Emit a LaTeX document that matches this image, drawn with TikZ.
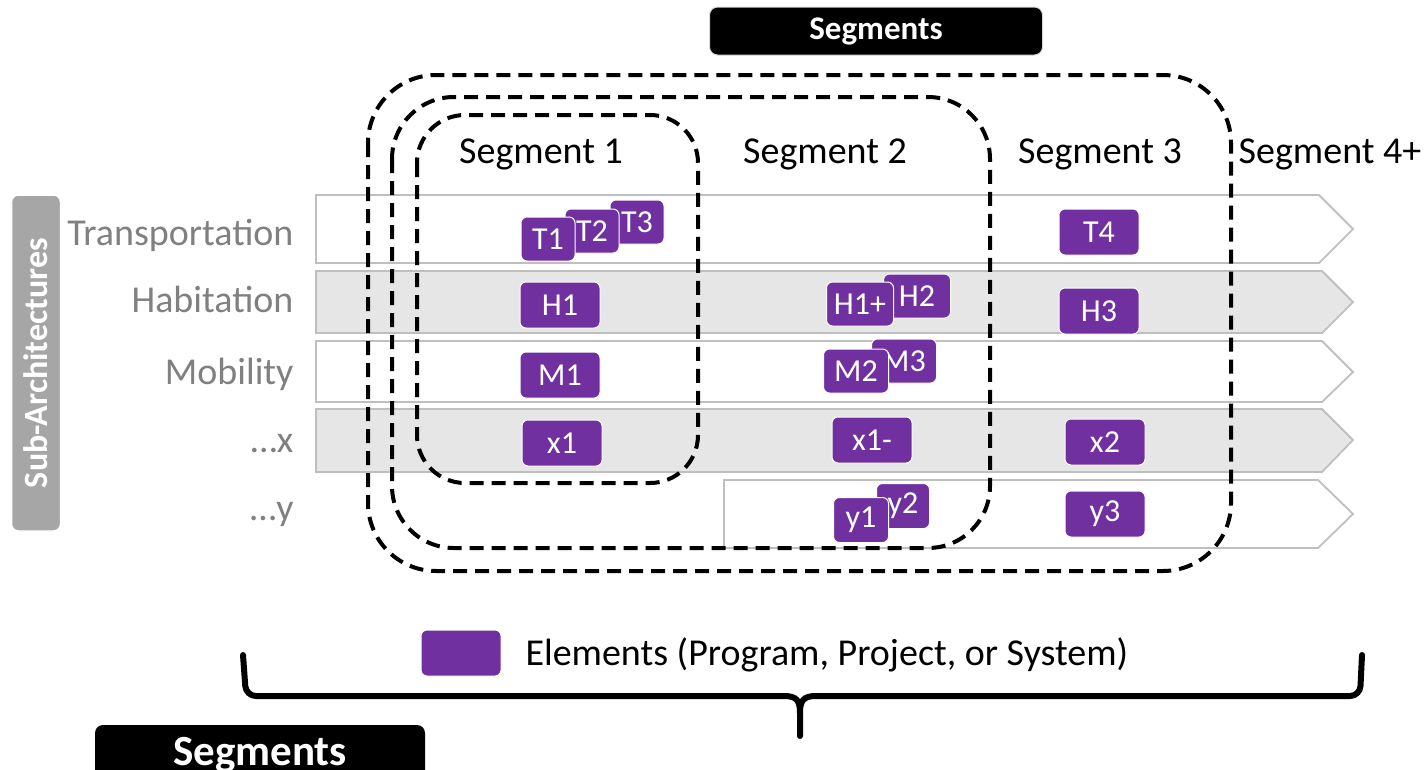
\documentclass[tikz,border=0pt]{standalone}
\usepackage{fontspec}
\setmainfont{Carlito}
\definecolor{elempurple}{HTML}{7030A0}
\definecolor{laneline}{HTML}{BFBFBF}
\definecolor{lanefill}{HTML}{E7E6E6}
\definecolor{labelgray}{HTML}{808080}
\definecolor{subgray}{HTML}{A6A6A6}
\begin{document}
\begin{tikzpicture}[x=1pt,y=-1pt,
  lane/.style={draw=laneline, line width=1.8pt},
  elem/.style={fill=elempurple, draw=white, line width=1pt, rounded corners=6pt, text=white,
    font=\fontsize{32}{32}\selectfont, inner sep=0pt, minimum width=80pt, minimum height=46pt},
  small/.style={elem, minimum width=54pt, minimum height=44pt},
  mid/.style={elem, minimum width=67pt, minimum height=44pt},
  seglabel/.style={font=\fontsize{38}{38}\selectfont, text=black, anchor=base},
  rowlabel/.style={font=\fontsize{38}{38}\selectfont, text=labelgray, anchor=base east},
  dashbox/.style={draw=black, line width=4pt, dash pattern=on 14pt off 8pt},
  brace/.style={draw=black, line width=6pt, line join=round, line cap=round}]
\useasboundingbox (0,0) rectangle (1426,769);
\clip (0,0) rectangle (1426,769);

% lanes
\draw[lane, fill=white]    (316,195) -- (1319,195) -- (1353,229) -- (1319,263) -- (316,263) -- cycle;
\draw[lane, fill=lanefill] (316,271) -- (1322,271) -- (1353,302) -- (1322,333) -- (316,333) -- cycle;
\draw[lane, fill=white]    (316,341) -- (1322,341) -- (1353,372) -- (1322,402) -- (316,402) -- cycle;
\draw[lane, fill=lanefill] (316,409) -- (1322,409) -- (1353,440) -- (1322,472) -- (316,472) -- cycle;
\draw[lane, fill=white]    (724,480) -- (1318,480) -- (1353,514) -- (1318,548) -- (724,548) -- cycle;

% row labels
\node[rowlabel] (lT) at (297,245) {Transportation};
\node[rowlabel] (lH) at (297,312) {Habitation};
\node[rowlabel] (lM) at (297,384) {Mobility};
\node[rowlabel] (lX) at (297,452) {\ldots x};
\node[rowlabel] (lY) at (297,520) {\ldots y};

% sub-architectures
\node[rotate=90, fill=subgray, draw=white, line width=1.5pt, rounded corners=7pt,
  minimum width=336pt, minimum height=49pt, inner sep=0pt, text=white,
  font=\bfseries\fontsize{34}{34}\selectfont] (sub) at (36,363) {Sub-Architectures};

% dashed segment groups
\draw[dashbox, rounded corners=68pt] (368,75) rectangle (1231,571);
\draw[dashbox, rounded corners=62pt] (392,97) rectangle (990,548);
\draw[dashbox, rounded corners=48pt] (417,115) rectangle (698,483);

% segment headers
\node[seglabel] (s1) at (541,163) {Segment 1};
\node[seglabel] (s2) at (825,163) {Segment 2};
\node[seglabel] (s3) at (1100,163) {Segment 3};
\node[seglabel] (s4) at (1330,163) {Segment 4+};

% top title
\node[fill=black, draw=black!15, line width=1pt, rounded corners=8pt, minimum width=333pt,
  minimum height=48pt, inner sep=0pt, text=white,
  font=\bfseries\fontsize{33}{33}\selectfont] (segtop) at (876,31) {Segments};

% elements
\node[small] (T3) at (637,222) {T3};
\node[small] (T2) at (592,231) {T2};
\node[small] (T1) at (548,239) {T1};
\node[elem] (H1) at (560,305) {H1};
\node[elem] (M1) at (560,375) {M1};
\node[elem] (x1) at (562,443) {x1};
\node[mid] (H2) at (917,296) {H2};
\node[mid] (H1p) at (860,304) {H1+};
\node[mid, minimum width=65pt] (M3) at (904,361) {M3};
\node[mid, minimum width=65pt] (M2) at (856,371) {M2};
\node[elem] (x1m) at (872,440) {x1-};
\node[small, minimum width=53pt, minimum height=45pt] (y2) at (903,506) {y2};
\node[small, minimum width=55pt, minimum height=45pt] (y1) at (861,520) {y1};
\node[elem] (T4) at (1099,232) {T4};
\node[elem] (H3) at (1099,311) {H3};
\node[elem] (x2) at (1105,442) {x2};
\node[elem] (y3) at (1105,514) {y3};

% legend
\node[elem] (leg) at (461,653) {};
\node[anchor=base west, font=\fontsize{38}{38}\selectfont, text=black] (legtext) at (522,665)
  {Elements (Program, Project, or System)};

% brace
\draw[brace] (243,655) [rounded corners=10pt] -- (246,696) [sharp corners] -- (784,696)
  .. controls (797,696) and (800,701) .. (800,713) -- (800,736);
\draw[brace] (1362,655) [rounded corners=10pt] -- (1360,696) [sharp corners] -- (816,696)
  .. controls (803,696) and (800,701) .. (800,713);

% bottom title
\fill[black, rounded corners=8pt] (95,725) rectangle (425,800);
\node[anchor=base, text=white, font=\bfseries\fontsize{43}{43}\selectfont] (segbot) at (260,765) {Segments};
\end{tikzpicture}
\end{document}
